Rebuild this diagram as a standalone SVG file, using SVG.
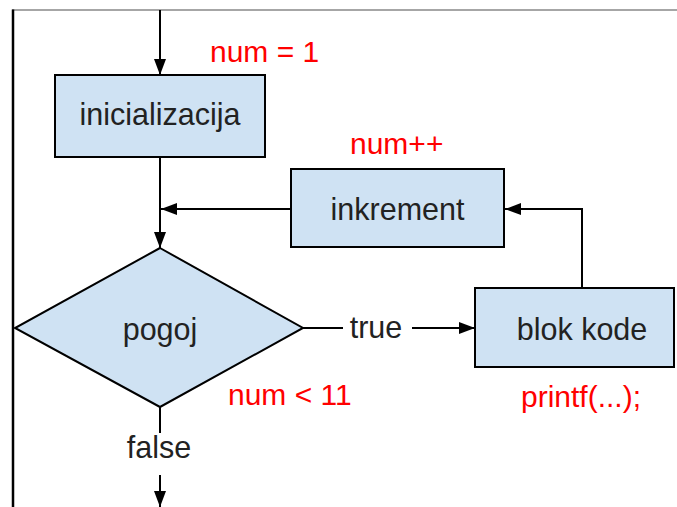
<svg xmlns="http://www.w3.org/2000/svg" width="677" height="507" viewBox="0 0 677 507">
<style>
.box{fill:#cfe2f3;stroke:#000;stroke-width:2}
.lbl{font-family:"Liberation Sans",Arial,sans-serif;font-size:30.5px;fill:#222;text-anchor:middle}
.red{font-family:"Liberation Sans",Arial,sans-serif;font-size:30px;fill:#ff0000}
.ln{fill:none;stroke:#000;stroke-width:2}
</style>
<defs>
<marker id="ah" viewBox="0 0 16 12" refX="16" refY="6" markerWidth="16" markerHeight="12" markerUnits="userSpaceOnUse" orient="auto">
<path d="M0,0 L16,6 L0,12 Z" fill="#000"/>
</marker>
</defs>
<rect width="677" height="507" fill="#fff"/>
<g id="frame">
<line x1="12" y1="10" x2="677" y2="10" stroke="#888" stroke-width="1.5"/>
<line x1="13" y1="9.5" x2="13" y2="507" stroke="#000" stroke-width="2.5"/>
</g>
<g id="connectors">
<line class="ln" x1="160" y1="10" x2="160" y2="75" marker-end="url(#ah)"/>
<line class="ln" x1="160" y1="157" x2="160" y2="248" marker-end="url(#ah)"/>
<line class="ln" x1="291" y1="209" x2="161" y2="209" marker-end="url(#ah)"/>
<polyline class="ln" points="582,288 582,209 505,209" marker-end="url(#ah)"/>
<line class="ln" x1="303" y1="328" x2="343" y2="328"/>
<line class="ln" x1="412" y1="328" x2="475" y2="328" marker-end="url(#ah)"/>
<line class="ln" x1="160" y1="407" x2="160" y2="433"/>
<line class="ln" x1="160" y1="475" x2="160" y2="507" marker-end="url(#ah)"/>
<text class="lbl" x="376" y="338">true</text>
<text class="lbl" x="159" y="458">false</text>
</g>
<g id="inicializacija">
<rect class="box" x="55" y="75" width="210" height="82"/>
<text class="lbl" x="160" y="125">inicializacija</text>
<text class="red" x="210" y="62">num = 1</text>
</g>
<g id="inkrement">
<rect class="box" x="291" y="169" width="213" height="78"/>
<text class="lbl" x="397.5" y="220">inkrement</text>
<text class="red" x="350" y="154">num++</text>
</g>
<g id="pogoj">
<polygon class="box" points="160,248 303,328 160,407 15,328"/>
<text class="lbl" x="160" y="340">pogoj</text>
<text class="red" x="228" y="405">num &lt; 11</text>
</g>
<g id="blok">
<rect class="box" x="475" y="288" width="199" height="79"/>
<text class="lbl" x="582" y="340">blok kode</text>
<text class="red" x="521" y="407">printf(...);</text>
</g>
</svg>
